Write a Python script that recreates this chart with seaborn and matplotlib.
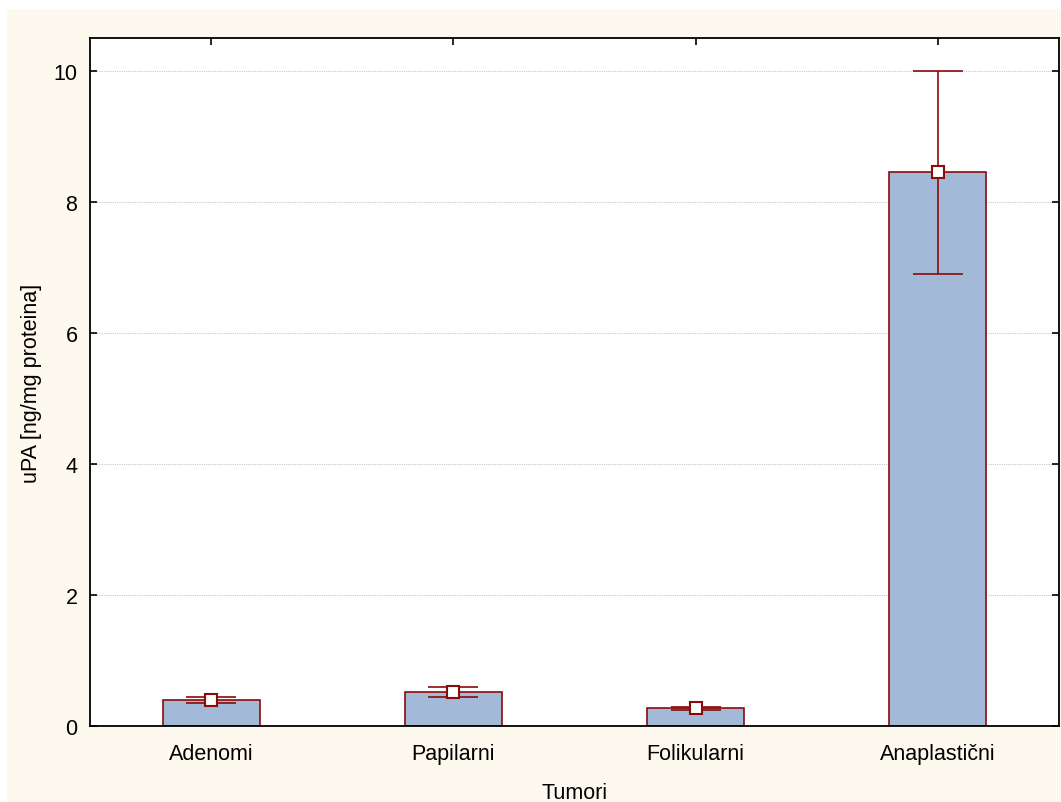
import numpy as np
import pandas as pd
import matplotlib
matplotlib.use("Agg")
import matplotlib.pyplot as plt
import seaborn as sns

categories = ["Adenomi", "Papilarni", "Folikularni", "Anaplastični"]
means = [0.40, 0.52, 0.27, 8.45]
lower = [0.35, 0.44, 0.245, 6.90]
upper = [0.45, 0.60, 0.295, 10.0]
y_ticks = [0, 2, 4, 6, 8, 10]

sns.set_theme(style="white")
plt.rcParams['font.family'] = ['Liberation Sans', 'DejaVu Sans']
plt.rcParams['text.color'] = 'black'
plt.rcParams['axes.labelcolor'] = 'black'

dark_red = "#8B0A0A"
bar_fill = "#A2BAD8"
cream = "#FEF9EE"

fig = plt.figure(figsize=(10.61, 8.03), dpi=100)
fig.patch.set_facecolor("white")
bg = fig.add_axes([7/1061, 0, 1 - 7/1061, 1 - 10/803], zorder=-10)
bg.set_facecolor(cream)
bg.set_xticks([]); bg.set_yticks([])
for s in bg.spines.values():
    s.set_visible(False)

ax = fig.add_axes([90/1061, 1 - 727/803, (1059 - 90)/1061, (727 - 39)/803])
ax.set_facecolor("white")

df = pd.DataFrame({"Tumori": categories, "uPA": means})
sns.barplot(data=df, x="Tumori", y="uPA", order=categories, color=bar_fill,
            saturation=1, width=0.4, edgecolor=dark_red, linewidth=1.2,
            errorbar=None, ax=ax, zorder=2)

pos = np.arange(len(categories))
m = np.array(means)
err = np.vstack([m - np.array(lower), np.array(upper) - m])
ax.errorbar(pos, m, yerr=err, fmt="none", ecolor=dark_red, elinewidth=1.2,
            capsize=18, capthick=1.2, zorder=3)
ax.plot(pos, m, linestyle="none", marker="s", markersize=8,
        markerfacecolor="white", markeredgecolor=dark_red, markeredgewidth=1.5,
        zorder=4)

ax.set_xlim(-0.5, len(categories) - 0.5)
ax.set_ylim(0, 10.5)
ax.set_yticks(y_ticks)
ax.set_yticklabels([str(t) for t in y_ticks])
ax.yaxis.grid(True, color="#C8C8C8", linestyle=(0, (1, 1)), linewidth=0.8, zorder=0)
ax.set_axisbelow(True)

ax.tick_params(axis="both", direction="in", length=5, width=1.2, colors="black",
               labelsize=15.5, top=True, right=True, bottom=True, left=True,
               pad=9)
ax.tick_params(axis="x", pad=12)
for s in ax.spines.values():
    s.set_visible(True)
    s.set_color("black")
    s.set_linewidth(1.3)

ax.set_xlabel("Tumori", fontsize=15.5, labelpad=13, color="black")
ax.set_ylabel("uPA [ng/mg proteina]", fontsize=15.5, labelpad=8, color="black")

fig.savefig("out.png", dpi=100, facecolor=fig.get_facecolor())
